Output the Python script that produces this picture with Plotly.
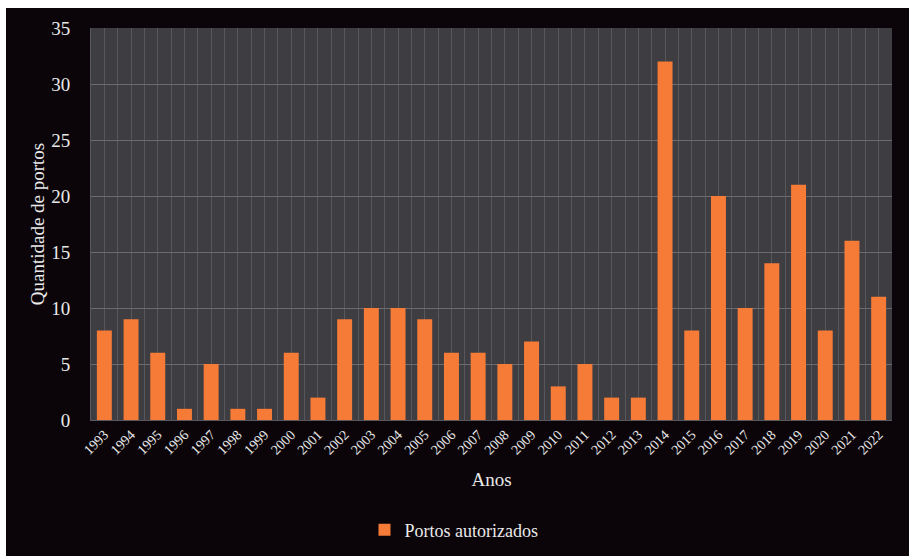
import plotly.graph_objects as go

anos = [1993, 1994, 1995, 1996, 1997, 1998, 1999, 2000, 2001, 2002,
        2003, 2004, 2005, 2006, 2007, 2008, 2009, 2010, 2011, 2012,
        2013, 2014, 2015, 2016, 2017, 2018, 2019, 2020, 2021, 2022]
portos = [8, 9, 6, 1, 5, 1, 1, 6, 2, 9,
          10, 10, 9, 6, 6, 5, 7, 3, 5, 2,
          2, 32, 8, 20, 10, 14, 21, 8, 16, 11]
serie = "Portos autorizados"
y_ticks = [0, 5, 10, 15, 20, 25, 30, 35]

# page offsets (body margin: left 6px, top 8px)
OX, OY = 6, 8
W, H = 909 - OX, 556 - OY
# plot area in page pixels: x 91..892, y 28..420
L, R, T, B = 91 - OX, 909 - 892, 28 - OY, 556 - 420
pw, ph = W - L - R, H - T - B

def py(y_page):
    return (H - B - (y_page - OY)) / ph

def px(x_page):
    return ((x_page - OX) - L) / pw

fig = go.Figure()
fig.add_trace(go.Bar(
    x=anos, y=portos, name=serie, width=0.56,
    marker=dict(color="#f67b37", line=dict(width=0)),
))

FONT = "Liberation Serif, Times New Roman, serif"
TXT = "#e9e9e9"

fig.update_layout(
    width=W, height=H,
    margin=dict(l=L, r=R, t=T, b=B, autoexpand=False),
    paper_bgcolor="#0b0509",
    plot_bgcolor="#3d3d42",
    font=dict(family=FONT, color=TXT),
    showlegend=True,
    legend=dict(orientation="h", x=px(454), xanchor="center",
                y=py(530), yanchor="middle",
                font=dict(size=18, color=TXT, family=FONT),
                bgcolor="rgba(0,0,0,0)"),
    xaxis=dict(
        range=[anos[0] - 0.5, anos[-1] + 0.5],
        tickmode="array", tickvals=anos, ticktext=[str(a) for a in anos],
        tickangle=-45, tickfont=dict(size=14, color=TXT, family=FONT),
        showgrid=False, zeroline=False,
        minor=dict(dtick=0.5, tick0=anos[0] - 0.5, showgrid=True,
                   gridcolor="rgba(120,120,125,0.45)", gridwidth=1),
        showline=True, linecolor="#5a5a5e", linewidth=1,
        ticks="", automargin=False,
        title=dict(text="Anos", font=dict(size=19, color=TXT, family=FONT), standoff=16),
    ),
    yaxis=dict(
        range=[0, 35], tickvals=y_ticks,
        tickfont=dict(size=19, color=TXT, family=FONT),
        showgrid=True, gridcolor="#6c6c70", gridwidth=1.2,
        zeroline=False, showline=True, linecolor="#5a5a5e",
        ticks="outside", ticklen=16, tickcolor="rgba(0,0,0,0)",
        automargin=False,
        title=dict(text="Quantidade de portos", font=dict(size=19, color=TXT, family=FONT), standoff=1),
    ),
)

fig.write_html("out.html", post_script="document.body.style.margin='8px 0 0 6px';")
